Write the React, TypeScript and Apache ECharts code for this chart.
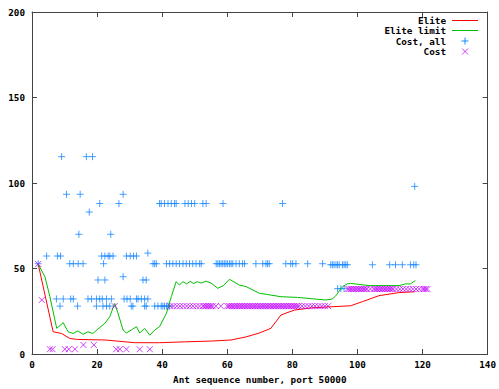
import React, { useEffect, useRef } from "react";
import * as echarts from "echarts";

// Elite (red line)
const eliteX = [1.9, 6.5, 9.1, 11.6, 14, 22.4, 25.9, 31.6, 39.2, 46.9, 55.5, 61.2, 65.8, 69.9, 73.4, 76.5, 80.6, 86, 92.8, 97.9, 101.5, 106.6, 112.7, 117.6];
const eliteY = [52.6, 13, 12, 9.1, 8.5, 8.2, 7.6, 6.6, 6.6, 7.1, 7.6, 8.2, 10, 12.3, 15, 22.8, 25.7, 27, 27.7, 28.2, 30.6, 34.1, 35.9, 36.4];

// Elite limit (green line)
const limitX = [1.9, 4, 5.5, 7.6, 9.6, 11.1, 12.6, 14.1, 15.7, 17.2, 18.7, 20.2, 22.4, 23.9, 25.4, 26.4, 28, 29, 30.5, 32.1, 33.1, 34.6, 36.2, 37.7, 39.2, 41.3, 42.8, 44.3, 45.3, 46.4, 47.5, 48.6, 49.7, 50.8, 52, 53.5, 55, 57.1, 58.8, 60.7, 63.7, 65.8, 69.9, 72, 76.5, 81.6, 87.8, 90.3, 92.2, 93.3, 95.4, 96.9, 97.9, 103.6, 112.8, 114.8, 116.3, 117.8];
const limitY = [52.6, 45, 33.5, 15, 18.3, 13, 12, 13.5, 11.5, 13, 12, 14.5, 18, 21.8, 29.6, 24, 14, 12.3, 14, 16, 12.3, 15, 11, 14, 16, 23.8, 33.5, 42.3, 40.3, 42.3, 41, 42.5, 41.2, 42.3, 41.5, 42.6, 41.5, 38.4, 40, 43.7, 40.3, 39.4, 35.5, 34.9, 33.5, 33.1, 32, 31.6, 32.1, 33.9, 39.4, 41, 41.3, 40, 40, 41, 41, 42.9];

// Cost, all (+ markers) grouped by level
const costAll115 = [9.1, 16.7, 18.6];
const costAll98 = [117.6];
const costAll93 = [10.6, 14.8, 28];
const costAll88 = [20.8, 26.7, 39.2, 39.7, 40.7, 41.8, 42.8, 43.8, 44.3, 47, 48, 49, 50, 52.5, 53.5, 58.7, 77];
const costAll83 = [17.6];
const costAll70 = [14.4, 24.2];
const costAll59 = [35.6];
const costAll57 = [4.5, 7.8, 8.8, 21.4, 22.4, 23.4, 23.9, 24.9, 29, 30.2, 31.2, 32.1];
const costAll53 = [1.9, 11.6, 12.7, 14.2, 15.7, 22, 37.2, 37.7, 38.2, 41.3, 42.3, 43.3, 44.3, 45.3, 46.4, 47.4, 48.4, 49.4, 50.4, 51.5, 52, 56.6, 57.1, 57.6, 58.1, 58.6, 59.1, 59.6, 60.1, 60.7, 61.2, 61.7, 62.7, 63.7, 64.7, 65.3, 68.8, 70.9, 71.9, 72.4, 72.9, 78, 79.5, 80.1, 81.1, 84.7, 89.3];
const costAll52 = [91.8, 92.3, 92.8, 93.4, 93.9, 94.4, 95.4, 95.9, 96.4, 96.9, 104.6, 109.9, 111.7, 113.8, 116.3, 117.3, 118];
const costAll45 = [28];
const costAll43 = [20.3, 22.4, 34.1, 35.1];
const costAll38 = [93.9, 94.9, 95.9];
const costAll32 = [7.5, 9.6, 11.9, 12.7, 17.2, 18.3, 19.8, 20.8, 21.6, 22.9, 24.4, 28.3, 29.2, 30.2, 32.1, 32.6, 33.6, 34.6, 35.6];
const costAll28 = [8.6, 14, 19.8, 21.8, 22.9, 23.9, 30.5, 31, 34.6, 35.1, 37.7, 38.7, 39.7, 40.2, 40.7, 41.3, 41.8, 42.3];

// Cost (x markers)
const costSingles: [number, number][] = [
  [1.9, 52.6], [3, 31.6], [5.5, 2.8], [6.3, 2.8], [10.1, 2.8], [11.3, 2.8], [13.2, 2.8],
  [15.8, 5.3], [19, 5.3], [25.9, 2.8], [27, 2.8], [29, 2.8], [33.1, 2.8], [36.2, 2.8], [25.4, 28],
];
const cost28 = [42.5, 43.5, 44.5, 45.5, 46.5, 47.5, 48.5, 49.5, 50.5, 51.5, 52.5, 53, 53.5, 54, 54.5, 55, 55.5, 56.5, 58, 60, 60.5, 61, 61.5, 62, 62.5, 63, 63.5, 64, 64.5, 65, 65.5, 66, 66.5, 67, 67.5, 68, 68.5, 69, 69.5, 70, 70.5, 71, 71.5, 72, 72.5, 73, 73.5, 74, 74.5, 75, 75.5, 76, 76.5, 77, 77.5, 78, 78.5, 79, 79.5, 80, 80.5, 81, 81.5, 82, 83, 84, 85, 86, 87, 88, 89, 90, 91];
const cost38 = [97, 97.5, 98, 98.5, 99, 99.5, 100, 100.5, 101, 101.5, 102, 102.5, 103, 104, 105, 105.5, 106, 106.5, 107, 107.5, 108, 108.5, 109, 109.5, 110, 110.5, 111, 112, 113, 114, 115, 116, 117, 118, 119, 120, 120.5, 121, 121.5];

const seriesNames = ["Elite", "Elite limit", "Cost, all", "Cost"];
const xTicks = { min: 0, max: 140, interval: 20 };
const yTicks = { min: 0, max: 200, interval: 50 };

const FONT = "'DejaVu Sans Mono', monospace";
const RED = "#ff0000";
const GREEN = "#00c000";
const BLUE = "#1a88ff";
const MAGENTA = "#c000ff";

function rows(groups: [number[], number][]): [number, number][] {
  const out: [number, number][] = [];
  groups.forEach(([xs, y]) => xs.forEach((x) => out.push([x, y])));
  return out;
}

export default function App() {
  const ref = useRef<HTMLDivElement>(null);
  useEffect(() => {
    if (!ref.current) return;
    const chart = echarts.init(ref.current, undefined, { renderer: "svg" });
    const costAllData = rows([
      [costAll115, 115.4], [costAll98, 98], [costAll93, 93.4], [costAll88, 88], [costAll83, 83],
      [costAll70, 70], [costAll59, 59], [costAll57, 57.3], [costAll53, 52.8], [costAll52, 52.2],
      [costAll45, 45.2], [costAll43, 43.3], [costAll38, 38.2], [costAll32, 32.2], [costAll28, 28],
    ]);
    const costData = [...costSingles, ...rows([[cost28, 28], [cost38, 38]])];
    const axisLine = { show: true, onZero: false, lineStyle: { color: "#444", width: 1 } };
    const tick = { show: true, inside: true, length: 5, lineStyle: { color: "#444" } };
    const label = { fontFamily: FONT, fontWeight: "bold" as const, fontSize: 9.3, color: "#000" };
    const textFont = `bold 9.3px ${FONT}`;

    // hand-drawn legend (gnuplot style: text right-aligned, sample on the right)
    const legTextX = 446;
    const sx1 = 452, sx2 = 478, scx = 465;
    const rowY = [20.5, 30.5, 41, 51.5];
    const legend: any[] = [];
    seriesNames.forEach((n, i) => {
      legend.push({
        type: "text",
        style: { text: n, x: legTextX, y: rowY[i], align: "right", verticalAlign: "middle", font: textFont, fill: "#000" },
      });
    });
    legend.push({ type: "line", shape: { x1: sx1, y1: rowY[0], x2: sx2, y2: rowY[0] }, style: { stroke: RED, lineWidth: 1 } });
    legend.push({ type: "line", shape: { x1: sx1, y1: rowY[1], x2: sx2, y2: rowY[1] }, style: { stroke: GREEN, lineWidth: 1 } });
    legend.push({ type: "line", shape: { x1: scx - 3.5, y1: rowY[2], x2: scx + 3.5, y2: rowY[2] }, style: { stroke: BLUE, lineWidth: 1 } });
    legend.push({ type: "line", shape: { x1: scx, y1: rowY[2] - 3.5, x2: scx, y2: rowY[2] + 3.5 }, style: { stroke: BLUE, lineWidth: 1 } });
    legend.push({ type: "line", shape: { x1: scx - 3, y1: rowY[3] - 3, x2: scx + 3, y2: rowY[3] + 3 }, style: { stroke: MAGENTA, lineWidth: 1, opacity: 0.75 } });
    legend.push({ type: "line", shape: { x1: scx - 3, y1: rowY[3] + 3, x2: scx + 3, y2: rowY[3] - 3 }, style: { stroke: MAGENTA, lineWidth: 1, opacity: 0.75 } });

    chart.setOption({
      animation: false,
      backgroundColor: "#fff",
      grid: { left: 32, right: 10, top: 12, bottom: 35, containLabel: false },
      graphic: legend,
      xAxis: [
        {
          type: "value", ...xTicks, position: "bottom",
          axisLine, axisTick: tick, splitLine: { show: false },
          axisLabel: { ...label, margin: 6 },
          name: "Ant sequence number, port 50000",
          nameLocation: "middle", nameGap: 21,
          nameTextStyle: label,
        },
        {
          type: "value", ...xTicks, position: "top",
          axisLine, axisTick: tick, splitLine: { show: false },
          axisLabel: { show: false },
        },
      ],
      yAxis: [
        {
          type: "value", ...yTicks, position: "left",
          axisLine, axisTick: tick, splitLine: { show: false },
          axisLabel: { ...label, margin: 7 },
        },
        {
          type: "value", ...yTicks, position: "right",
          axisLine, axisTick: tick, splitLine: { show: false },
          axisLabel: { show: false },
        },
      ],
      series: [
        {
          name: seriesNames[0], type: "line", symbol: "none",
          data: eliteX.map((x, i) => [x, eliteY[i]]),
          lineStyle: { color: RED, width: 1 }, itemStyle: { color: RED },
          z: 3,
        },
        {
          name: seriesNames[1], type: "line", symbol: "none",
          data: limitX.map((x, i) => [x, limitY[i]]),
          lineStyle: { color: GREEN, width: 1 }, itemStyle: { color: GREEN },
          z: 3,
        },
        {
          name: seriesNames[2], type: "scatter",
          symbol: "path://M4,0L4,8M0,4L8,4", symbolSize: 7,
          data: costAllData,
          itemStyle: { color: "none", borderColor: BLUE, borderWidth: 1 },
          z: 2,
        },
        {
          name: seriesNames[3], type: "scatter",
          symbol: "path://M0,0L8,8M0,8L8,0", symbolSize: 6,
          data: costData,
          itemStyle: { color: "none", borderColor: MAGENTA, borderWidth: 1, opacity: 0.75 },
          z: 4,
        },
      ],
    });
    return () => chart.dispose();
  }, []);
  return (
    <div
      ref={ref}
      style={{ position: "fixed", left: 0, top: 0, width: 499, height: 389, background: "#fff" }}
    />
  );
}
